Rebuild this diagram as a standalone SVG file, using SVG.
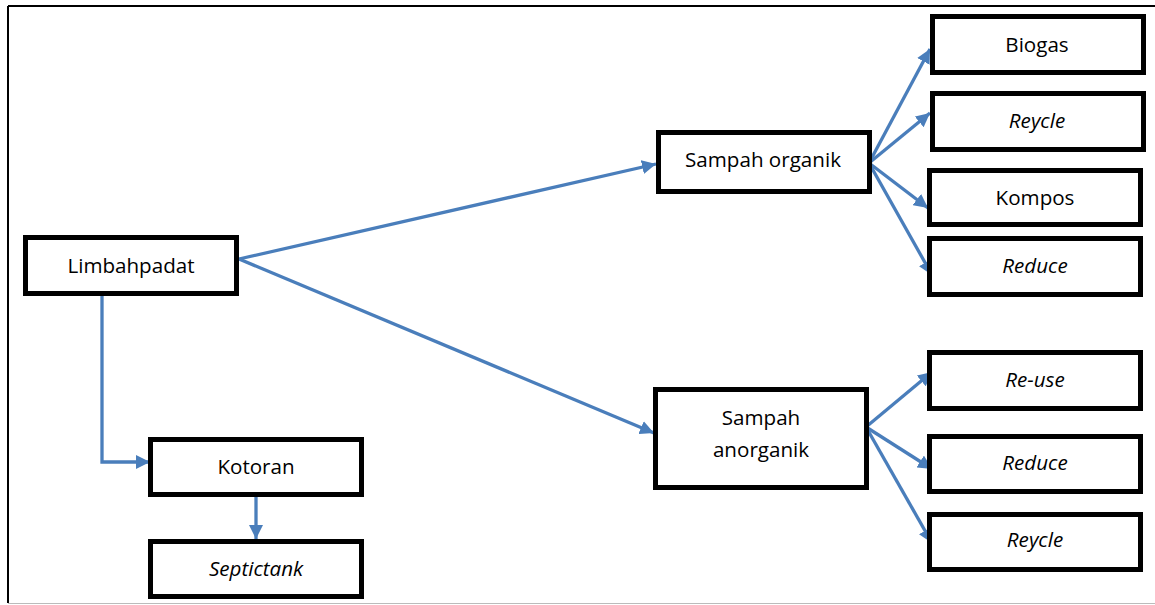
<svg xmlns="http://www.w3.org/2000/svg" width="1155" height="605" viewBox="0 0 1155 605">
  <style>
    .box { fill: #ffffff; stroke: #000000; stroke-width: 5; }
    .lbl { font-family: "Open Sans", "Liberation Sans", sans-serif; font-size: 20.6px; fill: #000000; text-anchor: middle; }
    .it { font-style: italic; }
    .edge { fill: none; stroke: #4a7ebb; stroke-width: 3.3; }
  </style>
  <defs>
    <marker id="arrow" markerUnits="userSpaceOnUse" markerWidth="16" markerHeight="14" refX="14" refY="7" orient="auto">
      <path d="M0,0 L14,7 L0,14 Z" fill="#4a7ebb"/>
    </marker>
  </defs>

  <!-- page frame -->
  <g id="frame">
    <line x1="8" y1="6" x2="1155" y2="6" stroke="#000" stroke-width="2"/>
    <line x1="8" y1="6" x2="8" y2="603" stroke="#000" stroke-width="2"/>
    <line x1="8" y1="603.5" x2="1155" y2="603.5" stroke="#bbbbbb" stroke-width="1"/>
  </g>

  <!-- connectors -->
  <g id="connectors">
    <path class="edge" d="M239,259 L656,164" marker-end="url(#arrow)"/>
    <path class="edge" d="M239,259 L654,433" marker-end="url(#arrow)"/>
    <path class="edge" d="M102,296 L102,462 L150,462" marker-end="url(#arrow)"/>
    <path class="edge" d="M256,488 L256,539" marker-end="url(#arrow)"/>

    <path class="edge" d="M869,163 L930,49" marker-end="url(#arrow)"/>
    <path class="edge" d="M869,163 L930,113" marker-end="url(#arrow)"/>
    <path class="edge" d="M869,163 L928,208" marker-end="url(#arrow)"/>
    <path class="edge" d="M869,163 L932,275" marker-end="url(#arrow)"/>

    <path class="edge" d="M866,427 L932,372" marker-end="url(#arrow)"/>
    <path class="edge" d="M866,427 L932,469" marker-end="url(#arrow)"/>
    <path class="edge" d="M866,427 L932,543" marker-end="url(#arrow)"/>
  </g>

  <g id="limbahpadat">
    <rect class="box" x="25.5" y="237.5" width="211" height="56"/>
    <text class="lbl" x="131" y="273">Limbahpadat</text>
  </g>
  <g id="kotoran">
    <rect class="box" x="150.5" y="439.5" width="211" height="55"/>
    <text class="lbl" x="256" y="474">Kotoran</text>
  </g>
  <g id="septictank">
    <rect class="box" x="150.5" y="541.5" width="211" height="55"/>
    <text class="lbl it" x="256" y="576">Septictank</text>
  </g>

  <g id="sampah-organik">
    <rect class="box" x="658.5" y="132.5" width="211" height="59"/>
    <text class="lbl" x="763" y="167">Sampah organik</text>
  </g>
  <g id="biogas">
    <rect class="box" x="932.5" y="16.5" width="211" height="56"/>
    <text class="lbl" x="1037" y="52">Biogas</text>
  </g>
  <g id="reycle-organik">
    <rect class="box" x="932.5" y="93.5" width="211" height="56"/>
    <text class="lbl it" x="1037" y="128">Reycle</text>
  </g>
  <g id="kompos">
    <rect class="box" x="929.5" y="170.5" width="211" height="54"/>
    <text class="lbl" x="1035" y="205">Kompos</text>
  </g>
  <g id="reduce-organik">
    <rect class="box" x="929.5" y="238.5" width="211" height="56"/>
    <text class="lbl it" x="1035" y="273">Reduce</text>
  </g>

  <g id="sampah-anorganik">
    <rect class="box" x="655.5" y="389.5" width="211" height="98"/>
    <text class="lbl" x="761" y="425">Sampah</text>
    <text class="lbl" x="761" y="457">anorganik</text>
  </g>
  <g id="re-use">
    <rect class="box" x="929.5" y="352.5" width="211" height="56"/>
    <text class="lbl it" x="1035" y="387">Re-use</text>
  </g>
  <g id="reduce-anorganik">
    <rect class="box" x="929.5" y="436.5" width="211" height="55"/>
    <text class="lbl it" x="1035" y="470">Reduce</text>
  </g>
  <g id="reycle-anorganik">
    <rect class="box" x="929.5" y="514.5" width="211" height="55"/>
    <text class="lbl it" x="1035" y="547">Reycle</text>
  </g>
</svg>
